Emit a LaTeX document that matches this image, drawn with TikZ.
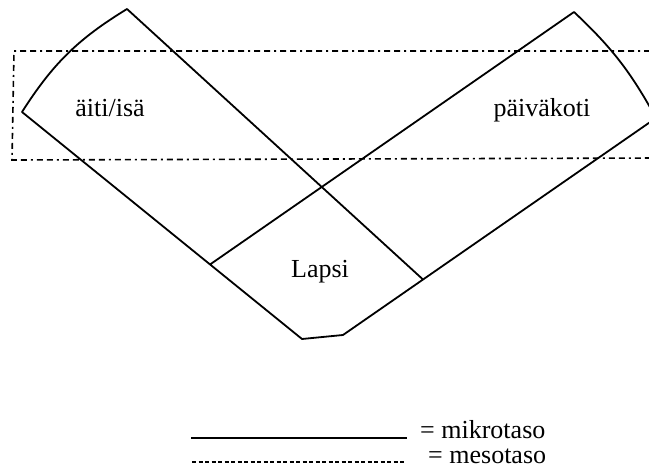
\documentclass[tikz,border=0pt]{standalone}
\usepackage{fontspec}
\setmainfont{Liberation Serif}
\usetikzlibrary{positioning}

\begin{document}
\begin{tikzpicture}[x=1pt, y=1pt,
    micro/.style={line width=1.8pt, line join=round},
    meso/.style={line width=1.6pt, dash pattern=on 6pt off 4pt on 6pt off 4pt on 2pt off 4pt},
    mesokey/.style={line width=1.5pt, dash pattern=on 4pt off 2.5pt},
    label/.style={font=\fontsize{26}{30}\selectfont, inner sep=0pt}]
    \useasboundingbox (0,0) rectangle (649,472);
    \clip (0,0) rectangle (649,472);
    % Corners
    \coordinate (parentTop) at (127,463);
    \coordinate (parentLeft) at (22,360);
    \coordinate (parentEnd) at (423,192.5);
    \coordinate (childLeft) at (302,133);
    \coordinate (childRight) at (343,137);
    \coordinate (daycareTop) at (574,460);
    \coordinate (daycareRight) at (656,354);
    \coordinate (daycareEnd) at (210,207.5);
    \coordinate (microStart) at (191,34);
    \coordinate (microEnd) at (407,34);
    \coordinate (mesoStart) at (192,10);
    \coordinate (mesoEnd) at (405,10);

    % Nodes
    \node (parent) [label, anchor=base] at (110,355) {äiti/isä};
    \node (daycare) [label, anchor=base] at (542,355) {päiväkoti};
    \node (child) [label, anchor=base] at (320,194) {Lapsi};
    \node (microText) [label, right=13pt of microEnd, anchor=base west] {= mikrotaso};
    \node (mesoText) [label, right=23pt of mesoEnd, anchor=base west, yshift=-1pt] {= mesotaso};

    % Links
    \draw [micro] (daycareEnd) -- (daycareTop) to[bend left=9] (daycareRight)
      -- (childRight) -- (childLeft) -- (parentLeft) to[bend left=13] (parentTop)
      -- (parentEnd);
    \draw [meso] (660,421) -- (14,421) -- (12,312) -- (660,314);
    \draw [micro] (microStart) -- (microEnd);
    \draw [mesokey] (mesoStart) -- (mesoEnd);
  \end{tikzpicture}
\end{document}
